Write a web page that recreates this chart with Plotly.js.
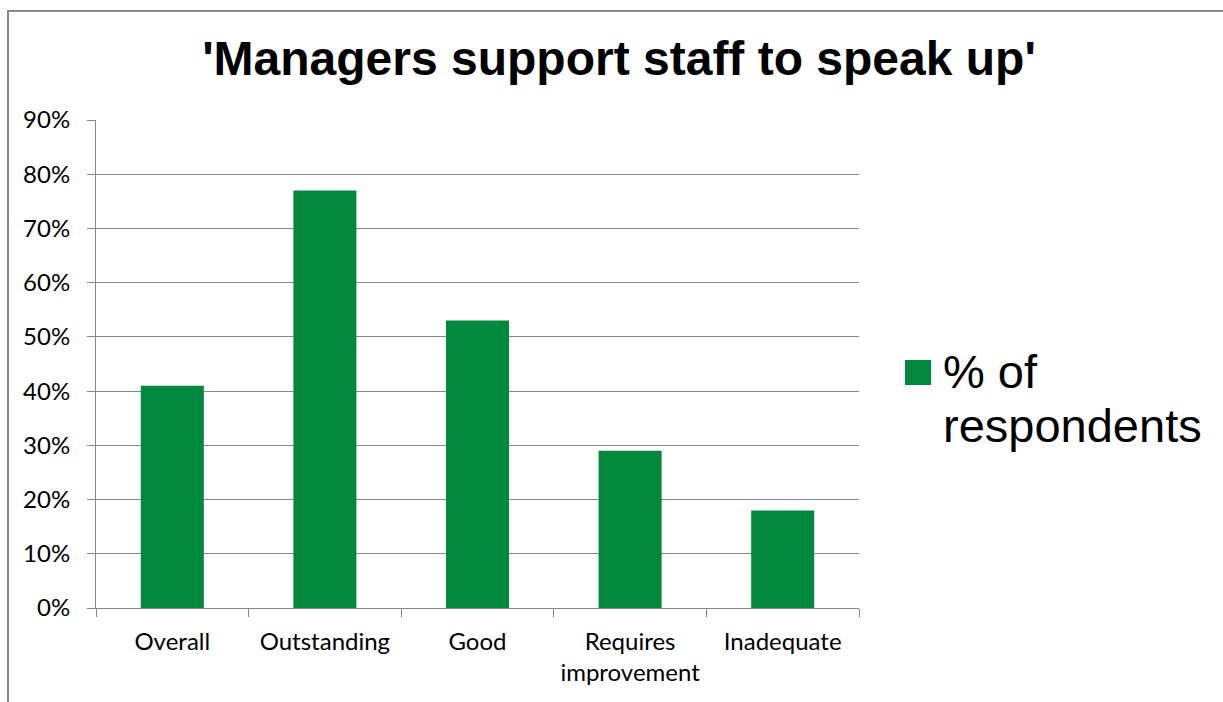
<!DOCTYPE html>
<html>
<head>
<meta charset="utf-8">
<script src="https://cdn.plot.ly/plotly-3.0.1.min.js"></script>
<style>html,body{margin:0;padding:0;background:#fff;}#chart{width:1223px;height:702px;}</style>
</head>
<body>
<div id="chart"></div>
<script>
const categories = ["Overall", "Outstanding", "Good", "Requires<br>improvement", "Inadequate"];
const values = [0.41, 0.77, 0.53, 0.29, 0.18];
const seriesNameLines = ["% of", "respondents"];
const chartTitle = "'Managers support staff to speak up'";

const L = 96, R = 859, T = 120, B = 608, W = 1223, H = 702;
const px = x => (x - L) / (R - L);
const py = y => (B - y) / (B - T);

const green = "#00893D";
const grey = "#888888";

const trace = {
  type: "bar",
  x: categories,
  y: values,
  name: seriesNameLines.join(" "),
  marker: {color: green},
  showlegend: false,
  hoverinfo: "x+y"
};

const legendFont = {family: "Liberation Sans, Arial, sans-serif", size: 47, color: "#000"};

const layout = {
  width: W, height: H,
  margin: {l: L, r: W - R, t: T, b: H - B, pad: 0},
  paper_bgcolor: "#ffffff",
  plot_bgcolor: "#ffffff",
  bargap: 0.587,
  title: {
    text: "<b>" + chartTitle + "</b>",
    font: {family: "Liberation Sans, Arial, sans-serif", size: 48, color: "#000"},
    x: 619 / W, xanchor: "center",
    y: 1 - 58 / H, yanchor: "middle"
  },
  xaxis: {
    type: "category",
    showgrid: false,
    showline: true, linecolor: grey, linewidth: 1,
    ticks: "outside", tickson: "boundaries", ticklen: 8, tickcolor: grey,
    tickfont: {family: "Lato, sans-serif", size: 24, color: "#000"},
    ticklabelstandoff: 12,
    fixedrange: true
  },
  yaxis: {
    range: [0, 0.9],
    dtick: 0.1,
    tickformat: ".0%",
    showgrid: true, gridcolor: grey, gridwidth: 1,
    showline: true, linecolor: grey, linewidth: 1,
    ticks: "outside", ticklen: 8, tickcolor: grey,
    tickfont: {family: "Lato, sans-serif", size: 24, color: "#000"},
    ticklabelstandoff: 12,
    zeroline: false,
    fixedrange: true
  },
  shapes: [
    {type: "rect", xref: "paper", yref: "paper",
     x0: px(8), x1: px(1240), y0: py(720), y1: py(11),
     line: {color: grey, width: 2}, fillcolor: "rgba(0,0,0,0)", layer: "below"},
    {type: "rect", xref: "paper", yref: "paper",
     x0: px(905), x1: px(931), y0: py(385), y1: py(360),
     line: {width: 0}, fillcolor: green}
  ],
  annotations: [
    {xref: "paper", yref: "paper", x: px(941), y: py(371),
     xanchor: "left", yanchor: "middle", align: "left", showarrow: false,
     text: seriesNameLines[0], font: legendFont},
    {xref: "paper", yref: "paper", x: px(941), y: py(425),
     xanchor: "left", yanchor: "middle", align: "left", showarrow: false,
     text: seriesNameLines[1], font: legendFont}
  ]
};

Plotly.newPlot("chart", [trace], layout, {displayModeBar: false, staticPlot: true});
</script>
</body>
</html>
